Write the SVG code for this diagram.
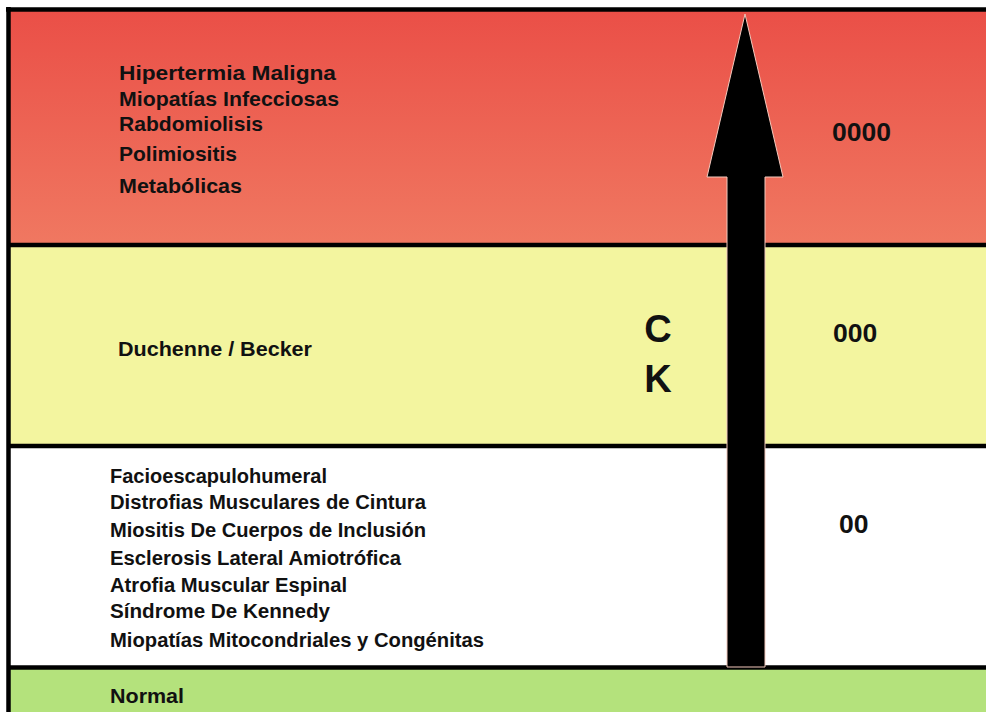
<svg xmlns="http://www.w3.org/2000/svg" width="986" height="712" viewBox="0 0 986 712">
<style>
.lbl{font-family:"Liberation Sans",Arial,sans-serif;font-weight:bold;font-size:20px;fill:#111}
.lbl2{font-family:"Liberation Sans",Arial,sans-serif;font-weight:bold;font-size:20.5px;fill:#111}
.num{font-family:"Liberation Sans",Arial,sans-serif;font-weight:bold;font-size:26.5px;fill:#111}
.big{font-family:"Liberation Sans",Arial,sans-serif;font-weight:bold;font-size:38px;fill:#111;text-anchor:middle}
.line{stroke:#000;stroke-width:4.5;fill:none}
</style>
<defs>
<linearGradient id="redg" x1="0" y1="0" x2="0" y2="1">
<stop offset="0" stop-color="#ea4f47"/>
<stop offset="1" stop-color="#f07861"/>
</linearGradient>
</defs>
<rect width="986" height="712" fill="#ffffff"/>
<g id="band-red">
<rect x="8" y="10" width="978" height="235" fill="url(#redg)"/>
<text class="lbl2" x="119" y="80" textLength="217" lengthAdjust="spacingAndGlyphs">Hipertermia Maligna</text>
<text class="lbl2" x="119" y="106" textLength="220" lengthAdjust="spacingAndGlyphs">Miopatías Infecciosas</text>
<text class="lbl2" x="119" y="131" textLength="144" lengthAdjust="spacingAndGlyphs">Rabdomiolisis</text>
<text class="lbl2" x="119" y="161" textLength="118" lengthAdjust="spacingAndGlyphs">Polimiositis</text>
<text class="lbl2" x="119" y="193" textLength="123" lengthAdjust="spacingAndGlyphs">Metabólicas</text>
<text class="num" x="832" y="141">0000</text>
</g>
<g id="band-yellow">
<rect x="8" y="245" width="978" height="201" fill="#f3f59f"/>
<text class="lbl2" x="118" y="356" textLength="194" lengthAdjust="spacingAndGlyphs">Duchenne / Becker</text>
<text class="big" x="658" y="342">C</text>
<text class="big" x="658" y="392">K</text>
<text class="num" x="833" y="342">000</text>
</g>
<g id="band-white">
<rect x="8" y="446" width="978" height="221" fill="#ffffff"/>
<text class="lbl" x="110" y="483" textLength="217" lengthAdjust="spacingAndGlyphs">Facioescapulohumeral</text>
<text class="lbl" x="110" y="509" textLength="316" lengthAdjust="spacingAndGlyphs">Distrofias Musculares de Cintura</text>
<text class="lbl" x="110" y="537" textLength="316" lengthAdjust="spacingAndGlyphs">Miositis De Cuerpos de Inclusión</text>
<text class="lbl" x="110" y="565" textLength="291" lengthAdjust="spacingAndGlyphs">Esclerosis Lateral Amiotrófica</text>
<text class="lbl" x="110" y="592" textLength="237" lengthAdjust="spacingAndGlyphs">Atrofia Muscular Espinal</text>
<text class="lbl" x="110" y="618" textLength="220" lengthAdjust="spacingAndGlyphs">Síndrome De Kennedy</text>
<text class="lbl" x="110" y="647" textLength="374" lengthAdjust="spacingAndGlyphs">Miopatías Mitocondriales y Congénitas</text>
<text class="num" x="839" y="533">00</text>
</g>
<g id="band-green">
<rect x="8" y="667" width="978" height="45" fill="#b4e27c"/>
<text class="lbl" x="110" y="703" textLength="74" lengthAdjust="spacingAndGlyphs">Normal</text>
</g>
<g id="lines">
<line class="line" x1="6" y1="9.5" x2="986" y2="9.5"/>
<line class="line" x1="8.5" y1="7" x2="8.5" y2="712"/>
<line class="line" x1="8" y1="245" x2="986" y2="245"/>
<line class="line" x1="8" y1="446" x2="986" y2="446"/>
<line class="line" x1="8" y1="667.5" x2="986" y2="667.5"/>
</g>
<g id="connectors">
<polygon points="745,14 783,177 765,177 765,667 727,667 727,177 707,177" fill="#000" stroke="#f3c9bd" stroke-width="1"/>
</g>
</svg>
